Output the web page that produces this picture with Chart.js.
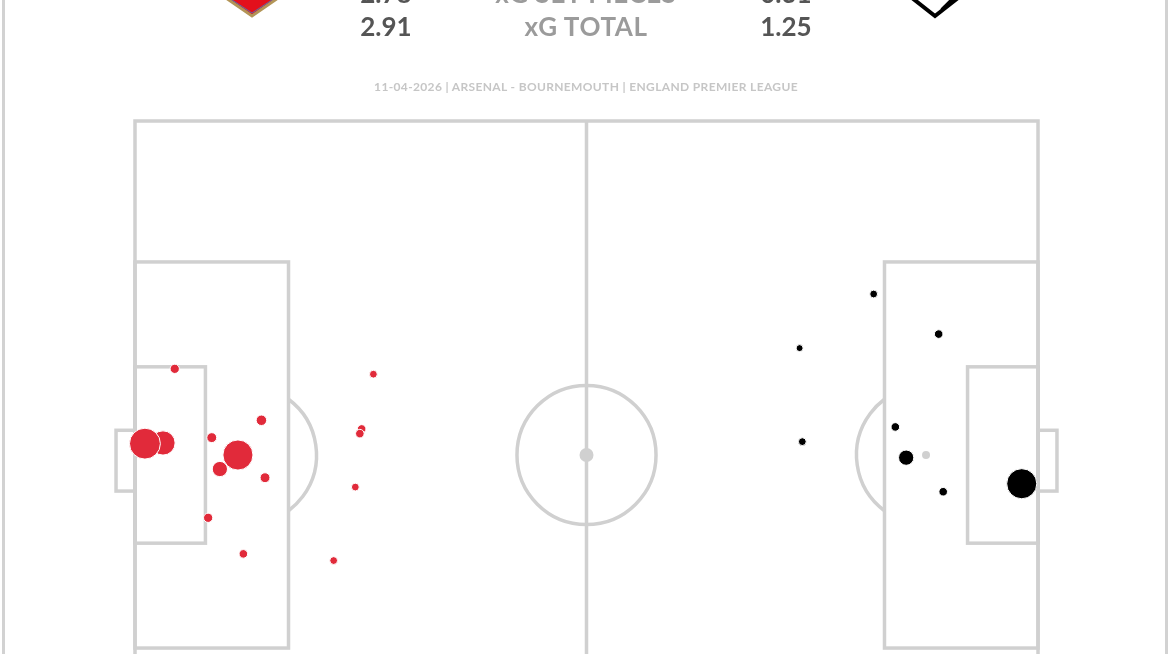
<!DOCTYPE html>
<html>
<head>
<meta charset="utf-8">
<script src="https://cdn.jsdelivr.net/npm/chart.js@4.4.1/dist/chart.umd.min.js"></script>
<style>
  html, body { margin:0; padding:0; background:#fff; overflow:hidden; width:1170px; height:654px; }
  #frame { position:absolute; left:2px; top:-80px; width:1160px; height:1000px; border:3px solid #d2d2d2; border-radius:12px; }
  #wrap { position:absolute; left:0; top:0; width:1170px; height:830px; }
  .hdr { position:absolute; font-family:Lato, sans-serif; font-weight:700; font-size:26px; line-height:30px; transform:translateX(-50%); white-space:nowrap; }
  .num { color:#555; }
  .lbl { color:#9b9b9b; letter-spacing:0.6px; }
  #sub { position:absolute; left:586px; top:79px; transform:translateX(-50%); font-family:Lato, sans-serif; font-weight:700; font-size:12px; letter-spacing:0.35px; color:#c6c6c6; white-space:nowrap; }
</style>
</head>
<body>
<div id="frame"></div>
<div id="wrap"><canvas id="shots" width="1170" height="830"></canvas></div>
<div class="hdr num" style="left:386px; top:-22px">2.78</div>
<div class="hdr lbl" style="left:586px; top:-22px">xG SET PIECES</div>
<div class="hdr num" style="left:786px; top:-22px">0.31</div>
<div class="hdr num" style="left:386px; top:11px">2.91</div>
<div class="hdr lbl" style="left:586px; top:11px">xG TOTAL</div>
<div class="hdr num" style="left:786px; top:11px">1.25</div>
<div id="sub">11-04-2026 | ARSENAL - BOURNEMOUTH | ENGLAND PREMIER LEAGUE</div>
<script>
// shots on a 0-100 pitch (Opta style), y measured from the top touchline
const homeTeam = 'Arsenal';
const homeX  = [4.4, 3.1, 1.1, 8.5, 9.4, 11.4, 14.0, 14.4, 8.1, 12.0, 26.4, 25.1, 24.9, 24.4, 22.0];
const homeY  = [37.1, 48.2, 48.3, 47.4, 52.1, 50.0, 44.8, 53.4, 59.4, 64.8, 37.9, 46.1, 46.8, 54.8, 65.8];
const homeXg = [0.07, 0.48, 0.78, 0.08, 0.19, 0.74, 0.09, 0.08, 0.07, 0.06, 0.05, 0.06, 0.06, 0.05, 0.05];

const awayTeam = 'Bournemouth';
const awayX  = [81.8, 73.6, 89.0, 84.2, 73.9, 85.4, 89.5, 98.2];
const awayY  = [25.9, 34.0, 31.9, 45.8, 48.0, 50.4, 55.5, 54.3];
const awayXg = [0.05, 0.04, 0.06, 0.06, 0.05, 0.19, 0.06, 0.74];

const LINE = '#d0d0d0';

function bubbleSize(xg) {
    return Math.max(3.5, 17.5 * Math.sqrt(xg));
}

function toPoints(xs, ys, xgs) {
    return xs.map(function(v, i) {
        return {x: v, y: ys[i], r: bubbleSize(xgs[i])};
    });
}

var pitchPlugin = {
    id: 'pitch',
    beforeDatasetsDraw: function(chart) {
        var ctx = chart.ctx;
        var sx = chart.scales.x, sy = chart.scales.y;
        var X = function(v) { return sx.getPixelForValue(v); };
        var Y = function(v) { return sy.getPixelForValue(v); };
        function rect(x0, y0, x1, y1) {
            ctx.strokeRect(X(x0), Y(y0), X(x1) - X(x0), Y(y1) - Y(y0));
        }
        ctx.save();
        ctx.strokeStyle = LINE;
        ctx.fillStyle = LINE;
        ctx.lineWidth = 3.5;

        rect(0, 0, 100, 100);
        ctx.beginPath();
        ctx.moveTo(X(50), Y(0));
        ctx.lineTo(X(50), Y(100));
        ctx.stroke();

        // boxes
        rect(0, 21.1, 17, 78.9);
        rect(83, 21.1, 100, 78.9);
        rect(0, 36.8, 7.8, 63.2);
        rect(92.2, 36.8, 100, 63.2);
        rect(-2.1, 46.3, 0, 55.4);
        rect(100, 46.3, 102.1, 55.4);

        // centre circle
        var R = X(7.7) - X(0);
        ctx.beginPath();
        ctx.arc(X(50), Y(50), R, 0, Math.PI * 2);
        ctx.stroke();

        // penalty arcs
        var dx = X(17) - X(12.4);
        var th = Math.acos(dx / R);
        ctx.beginPath();
        ctx.arc(X(12.4), Y(50), R, -th, th);
        ctx.stroke();
        ctx.beginPath();
        ctx.arc(X(87.6), Y(50), R, Math.PI - th, Math.PI + th);
        ctx.stroke();

        // spots
        ctx.beginPath(); ctx.arc(X(50), Y(50), 7, 0, Math.PI * 2); ctx.fill();
        ctx.beginPath(); ctx.arc(X(12.4), Y(50), 4, 0, Math.PI * 2); ctx.fill();
        ctx.beginPath(); ctx.arc(X(87.6), Y(50), 4, 0, Math.PI * 2); ctx.fill();

        // club crests (only their lower tips are in view)
        ctx.lineJoin = 'miter';
        ctx.beginPath();
        ctx.moveTo(226, -30); ctx.lineTo(278, -30); ctx.lineTo(278, -2);
        ctx.lineTo(252, 16); ctx.lineTo(226, -2); ctx.closePath();
        ctx.fillStyle = '#e3101c'; ctx.fill();
        ctx.lineWidth = 3; ctx.strokeStyle = '#b39557'; ctx.stroke();
        ctx.lineWidth = 1; ctx.strokeStyle = '#5b6da8';
        ctx.beginPath();
        ctx.moveTo(229, -2); ctx.lineTo(252, 13); ctx.lineTo(275, -2);
        ctx.stroke();

        ctx.beginPath();
        ctx.moveTo(905, -30); ctx.lineTo(963, -30); ctx.lineTo(963, -6);
        ctx.lineTo(935, 16); ctx.lineTo(907, -6); ctx.closePath();
        ctx.fillStyle = '#fff'; ctx.fill();
        ctx.lineWidth = 4; ctx.strokeStyle = '#000'; ctx.stroke();
        ctx.lineWidth = 1.2;
        for (var k = 0; k < 4; k++) {
            ctx.beginPath();
            ctx.moveTo(941 + k * 3, 9 - k * 2);
            ctx.lineTo(953 + k * 3, -3 - k * 2);
            ctx.stroke();
        }
        ctx.restore();
    }
};

new Chart(document.getElementById('shots'), {
    type: 'bubble',
    data: {
        datasets: [
            {
                label: homeTeam,
                data: toPoints(homeX, homeY, homeXg),
                backgroundColor: '#e12a3a',
                borderColor: '#ffffff',
                borderWidth: 1,
                clip: false
            },
            {
                label: awayTeam,
                data: toPoints(awayX, awayY, awayXg),
                backgroundColor: '#000000',
                borderColor: '#ffffff',
                borderWidth: 1,
                clip: false
            }
        ]
    },
    options: {
        responsive: false,
        animation: false,
        devicePixelRatio: 1,
        layout: { padding: { left: 135, right: 132, top: 121, bottom: 41 } },
        scales: {
            x: { type: 'linear', min: 0, max: 100, display: false },
            y: { type: 'linear', min: 0, max: 100, reverse: true, display: false }
        },
        plugins: {
            legend: { display: false },
            tooltip: { enabled: false }
        }
    },
    plugins: [pitchPlugin]
});
</script>
</body>
</html>
